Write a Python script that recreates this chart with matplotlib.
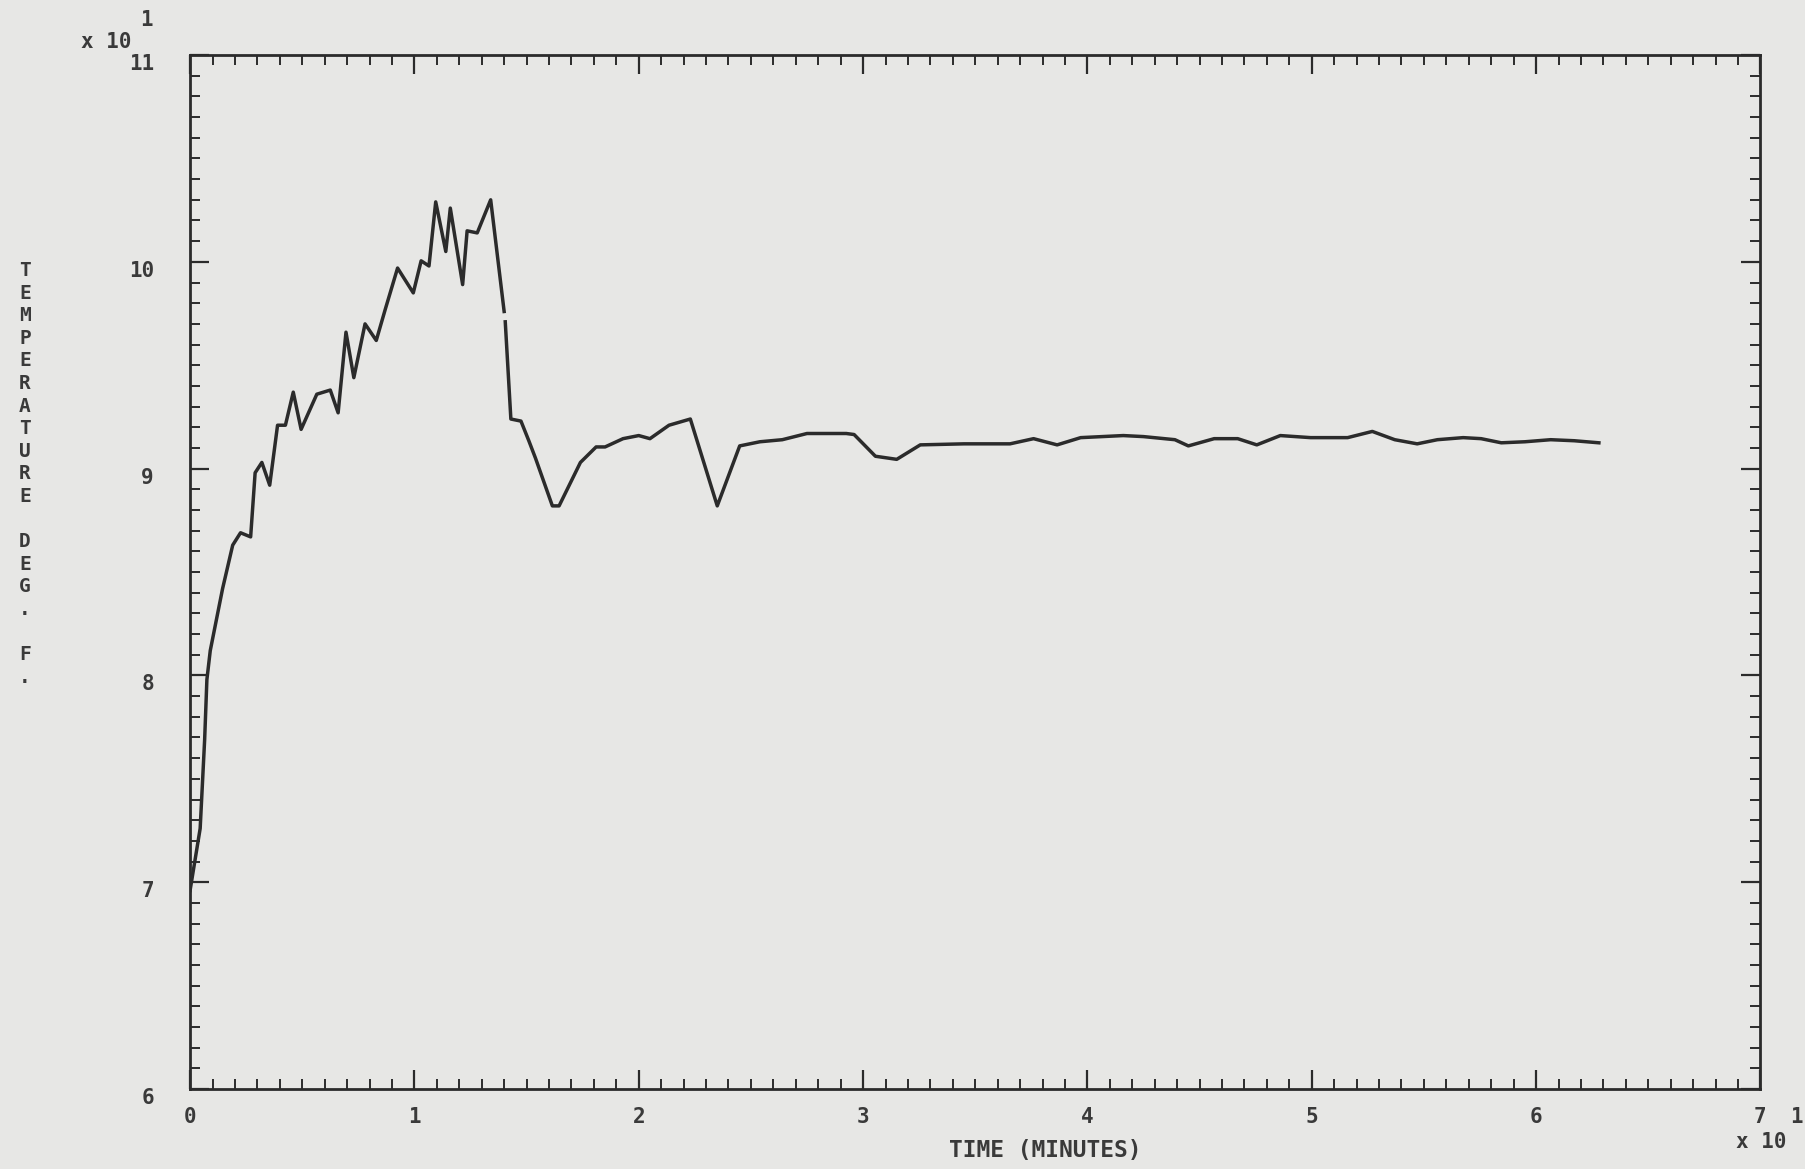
import numpy as np
import matplotlib
matplotlib.use("Agg")
import matplotlib.pyplot as plt
import matplotlib.transforms as mtransforms
from matplotlib.ticker import MultipleLocator, FuncFormatter

# time in minutes, temperature in deg F
time_min = [0.0, 0.45, 0.65, 0.75, 0.9, 1.45, 1.9, 2.25, 2.7, 2.9, 3.2, 3.55,
            3.9, 4.25, 4.6, 4.95, 5.65, 6.25, 6.6, 6.95, 7.3, 7.8, 8.3, 8.7,
            9.25, 9.95, 10.3, 10.65, 10.95, 11.4, 11.6, 12.15, 12.35, 12.8,
            13.4, 14.0, np.nan, 14.05, 14.3, 14.75, 15.1, 15.4, 16.15, 16.45,
            17.4, 18.1, 18.5, 19.3, 20.0, 20.5, 21.35, 22.3, 23.5, 24.5, 25.4,
            26.4, 27.5, 29.25, 29.6, 30.55, 31.5, 32.55, 34.5, 36.55, 37.6,
            38.65, 39.7, 41.6, 42.5, 43.9, 44.5, 45.65, 46.7, 47.55, 48.6,
            49.95, 51.6, 52.7, 53.7, 54.7, 55.6, 56.75, 57.55, 58.45, 59.5,
            60.65, 61.7, 62.8]
temp_f = [69.6, 72.6, 76.9, 79.8, 81.2, 84.2, 86.3, 86.9, 86.7, 89.8, 90.3, 89.2,
          92.1, 92.1, 93.7, 91.9, 93.6, 93.8, 92.7, 96.6, 94.4, 97.0, 96.2, 97.7,
          99.7, 98.5, 100.05, 99.8, 102.9, 100.5, 102.6, 98.9, 101.5, 101.4,
          103.0, 97.6, np.nan, 97.1, 92.4, 92.3, 91.35, 90.5, 88.2, 88.2,
          90.3, 91.05, 91.05, 91.45, 91.6, 91.45, 92.1, 92.4, 88.2, 91.1, 91.3,
          91.4, 91.7, 91.7, 91.65, 90.6, 90.45, 91.15, 91.2, 91.2, 91.45,
          91.15, 91.5, 91.6, 91.55, 91.4, 91.1, 91.45, 91.45, 91.15, 91.6,
          91.5, 91.5, 91.8, 91.4, 91.2, 91.4, 91.5, 91.45, 91.25, 91.3,
          91.4, 91.35, 91.25]

x_ticks = [0, 10, 20, 30, 40, 50, 60, 70]
y_ticks = [60, 70, 80, 90, 100, 110]

paper = "#e7e7e5"
ink = "#2b2b2b"
txt = "#3a3a3a"
font = "DejaVu Sans Mono"

fig = plt.figure(figsize=(18.05, 11.69), dpi=100, facecolor=paper)
ax = fig.add_axes([0.1053, 0.0684, 0.870, 0.8845], facecolor=paper)

ax.plot(time_min, temp_f, color=ink, lw=2.5)

ax.set_xlim(0, 70)
ax.set_ylim(60, 110)
ax.set_xticks(x_ticks)
ax.set_yticks(y_ticks)
ax.xaxis.set_minor_locator(MultipleLocator(1))
ax.yaxis.set_minor_locator(MultipleLocator(1))
ax.xaxis.set_major_formatter(FuncFormatter(lambda v, p: "%d" % round(v / 10)))
ax.yaxis.set_major_formatter(FuncFormatter(lambda v, p: "%d" % round(v / 10)))

for s in ax.spines.values():
    s.set_linewidth(2.0)
    s.set_color(ink)

ax.tick_params(which="both", direction="in", top=True, right=True, color=ink)
ax.tick_params(which="major", length=14, width=1.6)
ax.tick_params(which="minor", length=7, width=1.4)
ax.tick_params(axis="y", which="major", pad=26)
ax.tick_params(axis="x", which="major", pad=13)
for lab in ax.get_xticklabels() + ax.get_yticklabels():
    lab.set_fontfamily(font)
    lab.set_fontweight("bold")
    lab.set_fontsize(15)
    lab.set_color(txt)

# y labels sit a little below their ticks on the original
shift = mtransforms.ScaledTranslation(0, -7 / 100, fig.dpi_scale_trans)
for lab in ax.get_yticklabels():
    lab.set_transform(lab.get_transform() + shift)

# multipliers
fig.text(106 / 1805, 1 - 42 / 1169, "x 10", family=font, weight="bold",
         fontsize=15, color=txt, ha="center", va="center")
fig.text(146 / 1805, 1 - 20 / 1169, "1", family=font, weight="bold",
         fontsize=15, color=txt, ha="center", va="center")
fig.text(1761 / 1805, 1 - 1142 / 1169, "x 10", family=font, weight="bold",
         fontsize=15, color=txt, ha="center", va="center")
fig.text(1796 / 1805, 1 - 1117 / 1169, "1", family=font, weight="bold",
         fontsize=15, color=txt, ha="center", va="center")

# axis titles
fig.text(1045 / 1805, 1 - 1151 / 1169, "TIME (MINUTES)", family=font,
         weight="bold", fontsize=16.5, color=txt, ha="center", va="center")
fig.text(25 / 1805, 1 - 474 / 1169, "\n".join("TEMPERATURE DEG. F."),
         family=font, weight="bold", fontsize=14, color=txt,
         ha="center", va="center", linespacing=1.24)

plt.savefig("out.png", dpi=100, facecolor=paper)
